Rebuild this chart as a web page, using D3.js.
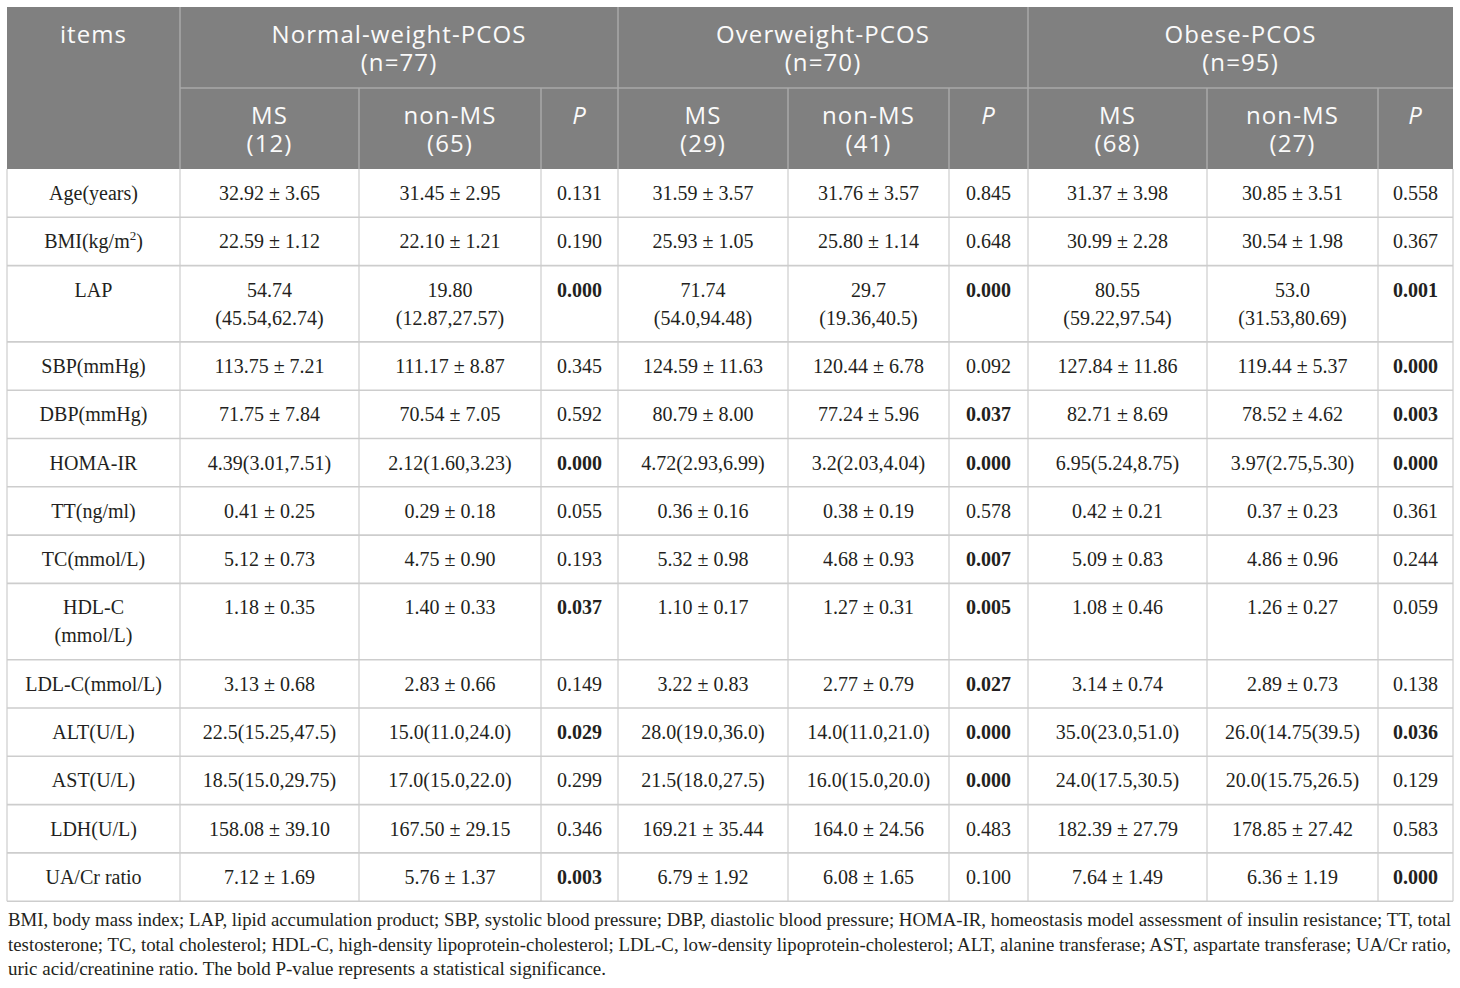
<!DOCTYPE html>
<html>
<head>
<meta charset="utf-8">
<script src="https://cdn.jsdelivr.net/npm/d3@7/dist/d3.min.js"></script>
<style>
  html, body { margin: 0; padding: 0; background: #ffffff; }
  svg { display: block; }
</style>
</head>
<body>
<svg id="chart" width="1460" height="988"></svg>
<script>
// ---------------- DATA ----------------
const items = ["Age(years)", "BMI(kg/m^2)", "LAP", "SBP(mmHg)", "DBP(mmHg)", "HOMA-IR", "TT(ng/ml)",
  "TC(mmol/L)", "HDL-C\n(mmol/L)", "LDL-C(mmol/L)", "ALT(U/L)", "AST(U/L)", "LDH(U/L)", "UA/Cr ratio"];

const groupLabels = ["Normal-weight-PCOS", "Overweight-PCOS", "Obese-PCOS"];
const groupN = ["(n=77)", "(n=70)", "(n=95)"];
const subLabels = ["MS", "non-MS", "P"];
const subN = [["(12)", "(65)", ""], ["(29)", "(41)", ""], ["(68)", "(27)", ""]];

const normalMS = ["32.92 ± 3.65", "22.59 ± 1.12", "54.74\n(45.54,62.74)", "113.75 ± 7.21", "71.75 ± 7.84",
  "4.39(3.01,7.51)", "0.41 ± 0.25", "5.12 ± 0.73", "1.18 ± 0.35", "3.13 ± 0.68", "22.5(15.25,47.5)",
  "18.5(15.0,29.75)", "158.08 ± 39.10", "7.12 ± 1.69"];
const normalNonMS = ["31.45 ± 2.95", "22.10 ± 1.21", "19.80\n(12.87,27.57)", "111.17 ± 8.87", "70.54 ± 7.05",
  "2.12(1.60,3.23)", "0.29 ± 0.18", "4.75 ± 0.90", "1.40 ± 0.33", "2.83 ± 0.66", "15.0(11.0,24.0)",
  "17.0(15.0,22.0)", "167.50 ± 29.15", "5.76 ± 1.37"];
const normalP = ["0.131", "0.190", "0.000", "0.345", "0.592", "0.000", "0.055", "0.193", "0.037", "0.149",
  "0.029", "0.299", "0.346", "0.003"];

const overMS = ["31.59 ± 3.57", "25.93 ± 1.05", "71.74\n(54.0,94.48)", "124.59 ± 11.63", "80.79 ± 8.00",
  "4.72(2.93,6.99)", "0.36 ± 0.16", "5.32 ± 0.98", "1.10 ± 0.17", "3.22 ± 0.83", "28.0(19.0,36.0)",
  "21.5(18.0,27.5)", "169.21 ± 35.44", "6.79 ± 1.92"];
const overNonMS = ["31.76 ± 3.57", "25.80 ± 1.14", "29.7\n(19.36,40.5)", "120.44 ± 6.78", "77.24 ± 5.96",
  "3.2(2.03,4.04)", "0.38 ± 0.19", "4.68 ± 0.93", "1.27 ± 0.31", "2.77 ± 0.79", "14.0(11.0,21.0)",
  "16.0(15.0,20.0)", "164.0 ± 24.56", "6.08 ± 1.65"];
const overP = ["0.845", "0.648", "0.000", "0.092", "0.037", "0.000", "0.578", "0.007", "0.005", "0.027",
  "0.000", "0.000", "0.483", "0.100"];

const obeseMS = ["31.37 ± 3.98", "30.99 ± 2.28", "80.55\n(59.22,97.54)", "127.84 ± 11.86", "82.71 ± 8.69",
  "6.95(5.24,8.75)", "0.42 ± 0.21", "5.09 ± 0.83", "1.08 ± 0.46", "3.14 ± 0.74", "35.0(23.0,51.0)",
  "24.0(17.5,30.5)", "182.39 ± 27.79", "7.64 ± 1.49"];
const obeseNonMS = ["30.85 ± 3.51", "30.54 ± 1.98", "53.0\n(31.53,80.69)", "119.44 ± 5.37", "78.52 ± 4.62",
  "3.97(2.75,5.30)", "0.37 ± 0.23", "4.86 ± 0.96", "1.26 ± 0.27", "2.89 ± 0.73", "26.0(14.75(39.5)",
  "20.0(15.75,26.5)", "178.85 ± 27.42", "6.36 ± 1.19"];
const obeseP = ["0.558", "0.367", "0.001", "0.000", "0.003", "0.000", "0.361", "0.244", "0.059", "0.138",
  "0.036", "0.129", "0.583", "0.000"];

const footnoteLines = [
  "BMI, body mass index; LAP, lipid accumulation product; SBP, systolic blood pressure; DBP, diastolic blood pressure; HOMA-IR, homeostasis model assessment of insulin resistance; TT, total",
  "testosterone; TC, total cholesterol; HDL-C, high-density lipoprotein-cholesterol; LDL-C, low-density lipoprotein-cholesterol; ALT, alanine transferase; AST, aspartate transferase; UA/Cr ratio,",
  "uric acid/creatinine ratio. The bold P-value represents a statistical significance."
];

// ---------------- LAYOUT ----------------
const colEdges = [7, 180, 359, 541, 618, 788, 949, 1028, 1207, 1378, 1453];
const headerTop = 7, headerMid = 88, headerBottom = 169;
const singleRowH = 48.3, lineStep = 28;
const headerFill = "#808080", headerLine = "#a9a9a9", bodyLine = "#cdcdcd";
const serif = "'Liberation Serif', 'Times New Roman', serif";
const sans = "'Open Sans', 'Noto Sans', sans-serif";
const footWidths = [1443, 1443, 598];

const columns = [normalMS, normalNonMS, normalP, overMS, overNonMS, overP, obeseMS, obeseNonMS, obeseP];
const isPcol = [false, false, true, false, false, true, false, false, true];

const svg = d3.select("#chart");

const rowLines = items.map((it, i) => d3.max([it, ...columns.map(c => c[i])], s => s.split("\n").length));
const rowH = rowLines.map(n => singleRowH + (n - 1) * lineStep);
const rowTops = [];
rowLines.reduce((acc, _, i) => { rowTops.push(acc); return acc + rowH[i]; }, headerBottom);
const tableBottom = rowTops[rowTops.length - 1] + rowH[rowH.length - 1];

const colX = i => (colEdges[i] + colEdges[i + 1]) / 2;

// ---------------- HEADER ----------------
const head = svg.append("g");
head.append("rect")
  .attr("x", colEdges[0]).attr("y", headerTop)
  .attr("width", colEdges[colEdges.length - 1] - colEdges[0])
  .attr("height", headerBottom - headerTop)
  .attr("fill", headerFill);

const groupEdges = [colEdges[1], colEdges[4], colEdges[7], colEdges[10]];
head.selectAll("line.gv").data(groupEdges.slice(0, 3))
  .join("line").attr("class", "gv")
  .attr("x1", d => d).attr("x2", d => d)
  .attr("y1", headerTop).attr("y2", headerBottom)
  .attr("stroke", headerLine).attr("stroke-width", 1.5);
head.append("line")
  .attr("x1", colEdges[1]).attr("x2", colEdges[10])
  .attr("y1", headerMid).attr("y2", headerMid)
  .attr("stroke", headerLine).attr("stroke-width", 1.5);
head.selectAll("line.sv").data(colEdges.slice(2, 10).filter(e => !groupEdges.includes(e)))
  .join("line").attr("class", "sv")
  .attr("x1", d => d).attr("x2", d => d)
  .attr("y1", headerMid).attr("y2", headerBottom)
  .attr("stroke", headerLine).attr("stroke-width", 1.5);

// one text element per header cell, lines as tspans
function hText(x, top, lines, italic) {
  const t = head.append("text")
    .attr("text-anchor", "middle")
    .attr("font-family", sans).attr("font-size", 24)
    .attr("letter-spacing", 1.1)
    .attr("font-style", italic ? "italic" : "normal")
    .attr("fill", "#fafafa");
  lines.filter(l => l).forEach((l, li) => {
    t.append("tspan").attr("x", x).attr("y", top + 27 + 8.5 + li * 28).text(l);
  });
}

hText(colX(0), headerTop, ["items"]);
groupLabels.forEach((g, gi) => {
  const cx = (groupEdges[gi] + groupEdges[gi + 1]) / 2;
  hText(cx, headerTop, [g, groupN[gi]]);
  subLabels.forEach((s, si) => {
    const ci = 1 + gi * 3 + si;
    hText(colX(ci), headerMid, [s, subN[gi][si]], s === "P");
  });
});

// ---------------- BODY ----------------
const body = svg.append("g");
body.selectAll("line.h").data(rowTops.slice(1).concat([tableBottom]))
  .join("line").attr("class", "h")
  .attr("x1", colEdges[0]).attr("x2", colEdges[10])
  .attr("y1", d => d).attr("y2", d => d)
  .attr("stroke", bodyLine).attr("stroke-width", 1.6);
body.selectAll("line.v").data(colEdges)
  .join("line").attr("class", "v")
  .attr("x1", d => d).attr("x2", d => d)
  .attr("y1", headerBottom).attr("y2", tableBottom)
  .attr("stroke", bodyLine).attr("stroke-width", 1.2);

function cellText(x, top, str, bold) {
  const t = body.append("text")
    .attr("text-anchor", "middle")
    .attr("font-family", serif).attr("font-size", 20)
    .attr("font-weight", bold ? "bold" : "normal")
    .attr("fill", "#231f20");
  str.split("\n").forEach((line, li) => {
    const y = top + 24.5 + li * lineStep + 6.5;
    if (line.includes("^")) {
      const [a, rest] = line.split("^");
      t.append("tspan").attr("x", x).attr("y", y).text(a);
      t.append("tspan").attr("font-size", 13).attr("dy", -8).text(rest.charAt(0));
      t.append("tspan").attr("dy", 8).text(rest.slice(1));
    } else {
      t.append("tspan").attr("x", x).attr("y", y).text(line);
    }
  });
}

items.forEach((it, i) => {
  cellText(colX(0), rowTops[i], it, false);
  columns.forEach((col, ci) => {
    const v = col[i];
    cellText(colX(ci + 1), rowTops[i], v, isPcol[ci] && +v < 0.05);
  });
});

// ---------------- FOOTNOTE ----------------
const foot = svg.append("g");
footnoteLines.forEach((line, i) => {
  foot.append("text")
    .attr("x", colEdges[0] + 1).attr("y", tableBottom + 25 + i * 24.5)
    .attr("font-family", serif).attr("font-size", 18.6)
    .attr("fill", "#231f20")
    .attr("textLength", footWidths[i]).attr("lengthAdjust", "spacingAndGlyphs")
    .text(line);
});
</script>
</body>
</html>
